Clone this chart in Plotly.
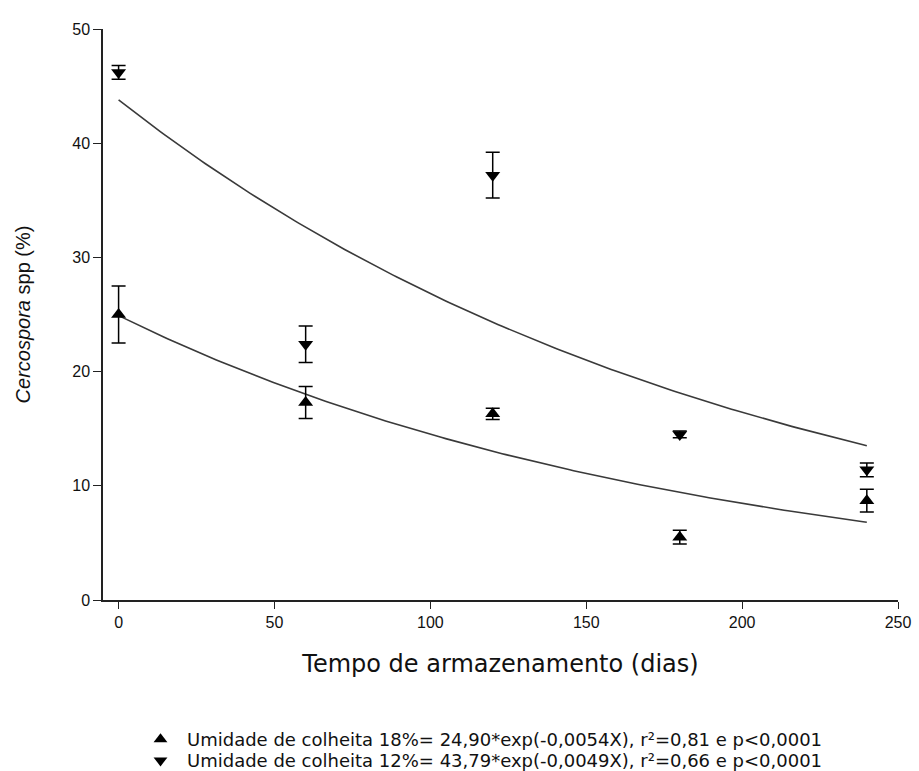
import numpy as np
import plotly.graph_objects as go

# Storage time (days)
dias = [0, 60, 120, 180, 240]

# Cercospora spp incidence (%) and standard error, harvest moisture 18%
umid18 = [25.0, 17.3, 16.3, 5.5, 8.7]
erro18 = [2.5, 1.4, 0.5, 0.6, 1.0]

# Cercospora spp incidence (%) and standard error, harvest moisture 12%
umid12 = [46.2, 22.4, 37.2, 14.5, 11.4]
erro12 = [0.6, 1.6, 2.0, 0.3, 0.6]

# Fitted exponential models y = a*exp(b*x)
a18, b18 = 24.90, -0.0054
a12, b12 = 43.79, -0.0049

nome18 = "Umidade de colheita 18%= 24,90*exp(-0,0054X), r²=0,81 e p<0,0001"
nome12 = "Umidade de colheita 12%= 43,79*exp(-0,0049X), r²=0,66 e p<0,0001"

xfit = np.linspace(0, 240, 200)

fig = go.Figure()

fig.add_trace(go.Scatter(
    x=xfit, y=a18 * np.exp(b18 * xfit), mode="lines",
    line=dict(color="#3a3a3a", width=1.6), showlegend=False, hoverinfo="skip"))
fig.add_trace(go.Scatter(
    x=xfit, y=a12 * np.exp(b12 * xfit), mode="lines",
    line=dict(color="#3a3a3a", width=1.6), showlegend=False, hoverinfo="skip"))

fig.add_trace(go.Scatter(
    x=dias, y=umid18, mode="markers", name=nome18, legend="legend",
    marker=dict(symbol="triangle-up", size=13, color="black"),
    error_y=dict(type="data", array=erro18, visible=True,
                 color="black", thickness=1.5, width=7)))
fig.add_trace(go.Scatter(
    x=dias, y=umid12, mode="markers", name=nome12, legend="legend2",
    marker=dict(symbol="triangle-down", size=13, color="black"),
    error_y=dict(type="data", array=erro12, visible=True,
                 color="black", thickness=1.5, width=7)))

legend_common = dict(
    x=0.039, xanchor="left", yanchor="top", orientation="v", itemwidth=43,
    font=dict(size=18, color="#111111", family="DejaVu Sans, sans-serif"),
    bgcolor="rgba(0,0,0,0)", itemsizing="constant")

fig.update_layout(
    width=919, height=771,
    margin=dict(l=103, r=21, t=29, b=171, autoexpand=False),
    paper_bgcolor="white", plot_bgcolor="white",
    font=dict(family="Liberation Sans, Arial, sans-serif", color="#111111"),
    legend=dict(y=-0.212, **legend_common),
    legend2=dict(y=-0.249, **legend_common),
    xaxis=dict(
        range=[-5, 250], tickvals=[0, 50, 100, 150, 200, 250],
        showgrid=False, zeroline=False, showline=True, linecolor="#222222",
        linewidth=1.5, ticks="outside", ticklen=7, tickwidth=1.2,
        tickcolor="#222222", tickfont=dict(size=16),
        title=dict(text="Tempo de armazenamento (dias)",
                   font=dict(size=24, family="DejaVu Sans, sans-serif"),
                   standoff=25)),
    yaxis=dict(
        range=[0, 50], tickvals=[0, 10, 20, 30, 40, 50],
        showgrid=False, zeroline=False, showline=True, linecolor="#222222",
        linewidth=1.5, ticks="outside", ticklen=8, tickwidth=1.2,
        tickcolor="#222222", tickfont=dict(size=16),
        title=dict(text="<i>Cercospora</i> spp (%)",
                   font=dict(size=20), standoff=36)),
)

fig.write_html("out.html")
